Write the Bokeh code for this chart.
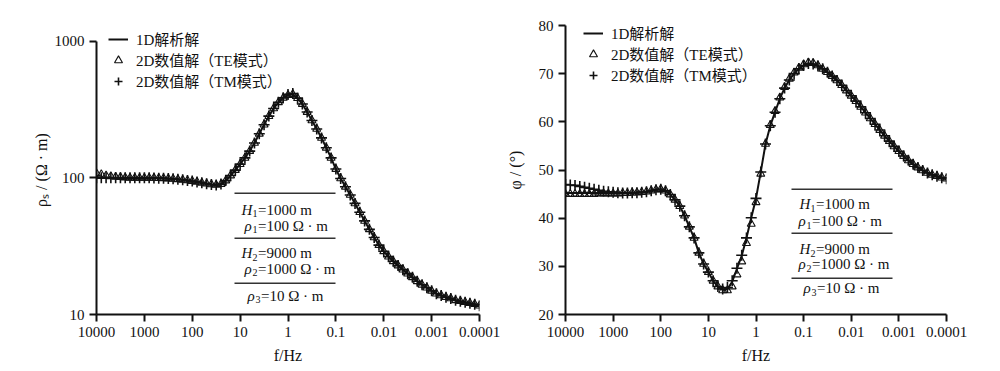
from bokeh.plotting import figure
from bokeh.models import Range1d, FixedTicker, Label, BoxAnnotation
from bokeh.layouts import row
from bokeh.embed import file_html
from bokeh.resources import INLINE

# ---------------- data ----------------
log_freq = [4.0, 3.9, 3.8, 3.7, 3.6, 3.5, 3.4, 3.3, 3.2, 3.1,
            3.0, 2.9, 2.8, 2.7, 2.6, 2.5, 2.4, 2.3, 2.2, 2.1,
            2.0, 1.9, 1.8, 1.7, 1.6, 1.5, 1.4, 1.3, 1.2, 1.1,
            1.0, 0.9, 0.8, 0.7, 0.6, 0.5, 0.4, 0.3, 0.2, 0.1,
            0.0, -0.1, -0.2, -0.3, -0.4, -0.5, -0.6, -0.7, -0.8, -0.9,
            -1.0, -1.1, -1.2, -1.3, -1.4, -1.5, -1.6, -1.7, -1.8, -1.9,
            -2.0, -2.1, -2.2, -2.3, -2.4, -2.5, -2.6, -2.7, -2.8, -2.9,
            -3.0, -3.1, -3.2, -3.3, -3.4, -3.5, -3.6, -3.7, -3.8, -3.9,
            -4.0]
freq = [10 ** e for e in log_freq]

rho_1d = [100.0, 100.0, 100.0, 100.0, 100.0, 100.0, 100.0, 100.0, 100.0, 100.0,
          100.0, 100.0, 99.8, 99.5, 99.2, 98.8, 98.3, 97.6, 96.8, 95.8,
          94.7, 93.4, 92.0, 90.6, 89.4, 88.7, 90.0, 95.5, 104.0, 114.0,
          126, 140, 157, 180, 210, 245, 283, 322, 357, 385,
          403, 410, 383, 347, 303, 263, 228, 196, 166, 140,
          116, 99, 86, 75, 65, 56, 48.4, 42.0, 36.6, 32.2,
          29.0, 26.5, 24.5, 22.8, 21.3, 19.9, 18.7, 17.5, 16.5, 15.7,
          14.9, 14.2, 13.8, 13.4, 13.1, 12.7, 12.5, 12.3, 12.1, 11.9,
          11.6]
rho_te = [108.0, 106.0, 104.0, 102.5, 101.5, 101.0, 100.5, 100.0, 100.0, 100.0,
          100.0, 100.0, 99.8, 99.5, 99.2, 98.8, 98.3, 97.6, 96.8, 95.8,
          94.7, 93.4, 92.0, 90.6, 89.4, 88.7, 90.0, 95.5, 104.0, 114.0,
          126, 140, 157, 180, 210, 245, 283, 322, 357, 385,
          403, 410, 383, 347, 303, 263, 228, 196, 166, 140,
          116, 99, 86, 75, 65, 56, 48.4, 42.0, 36.6, 32.2,
          29.0, 26.5, 24.5, 22.8, 21.3, 19.9, 18.7, 17.5, 16.5, 15.7,
          14.9, 14.2, 13.8, 13.4, 13.1, 12.7, 12.5, 12.3, 12.1, 11.9,
          11.6]
rho_tm = [100.0, 100.0, 100.0, 100.0, 100.0, 100.0, 100.0, 100.0, 100.0, 100.0,
          100.0, 100.0, 99.8, 99.5, 99.2, 98.8, 98.3, 97.6, 96.8, 95.8,
          94.7, 93.4, 92.0, 90.6, 89.4, 88.7, 90.0, 95.5, 104.0, 114.0,
          126, 140, 157, 180, 210, 245, 283, 322, 357, 385,
          408, 414, 383, 347, 303, 263, 228, 196, 166, 140,
          116, 99, 86, 75, 65, 56, 48.4, 42.0, 36.6, 32.2,
          29.0, 26.5, 24.5, 22.8, 21.3, 19.9, 18.7, 17.5, 16.5, 15.7,
          14.9, 14.2, 13.8, 13.4, 13.1, 12.7, 12.5, 12.3, 12.1, 11.9,
          11.6]

phi_1d = [45.2, 45.2, 45.2, 45.2, 45.2, 45.2, 45.2, 45.2, 45.2, 45.2,
          45.2, 45.2, 45.2, 45.2, 45.3, 45.3, 45.4, 45.5, 45.7, 45.9,
          46.0, 45.7, 44.9, 43.8, 42.5, 40.5, 38.2, 35.9, 32.8, 30.5,
          28.8, 27.0, 25.8, 25.1, 25.3, 26.8, 29.5, 32.2, 35.9, 40.1,
          44.1, 49.6, 55.4, 59.2, 62.0, 64.8, 67.0, 68.7, 70.0, 71.0,
          71.7, 72.1, 72.0, 71.6, 71.0, 70.3, 69.5, 68.6, 67.6, 66.5,
          65.4, 64.3, 63.1, 61.9, 60.7, 59.5, 58.3, 57.1, 56.0, 54.9,
          53.9, 52.9, 52.0, 51.2, 50.5, 49.9, 49.4, 49.0, 48.7, 48.4,
          48.2]
phi_te = [45.0, 45.0, 45.0, 45.0, 45.0, 45.0, 45.0, 45.1, 45.1, 45.1,
          45.1, 45.1, 45.2, 45.2, 45.3, 45.3, 45.4, 45.5, 45.7, 45.9,
          46.0, 45.7, 44.9, 43.8, 42.5, 40.5, 38.2, 35.9, 32.8, 30.5,
          28.8, 27.0, 25.8, 25.0, 25.0, 25.8, 28.3, 31.0, 34.8, 38.8,
          43.3, 49.2, 55.4, 59.3, 62.2, 65.0, 67.2, 68.9, 70.2, 71.2,
          71.9, 72.3, 72.2, 71.7, 71.0, 70.3, 69.5, 68.6, 67.6, 66.5,
          65.4, 64.3, 63.1, 61.9, 60.7, 59.5, 58.3, 57.1, 56.0, 54.9,
          53.9, 52.9, 52.0, 51.2, 50.5, 49.9, 49.4, 49.0, 48.7, 48.4,
          48.2]
phi_tm = [47.0, 46.9, 46.8, 46.6, 46.4, 46.2, 46.0, 45.8, 45.6, 45.5,
          45.4, 45.3, 45.2, 45.2, 45.3, 45.3, 45.4, 45.5, 45.7, 45.9,
          46.0, 45.7, 44.9, 43.8, 42.5, 40.5, 38.2, 35.9, 32.8, 30.5,
          28.8, 27.0, 25.8, 25.3, 25.6, 27.0, 29.6, 32.3, 35.9, 40.1,
          44.1, 49.6, 55.4, 59.2, 62.0, 64.8, 67.0, 68.7, 70.0, 71.0,
          71.7, 72.1, 72.0, 71.6, 71.0, 70.3, 69.5, 68.6, 67.6, 66.5,
          65.4, 64.3, 63.1, 61.9, 60.7, 59.5, 58.3, 57.1, 56.0, 54.9,
          53.9, 52.9, 52.0, 51.2, 50.5, 49.9, 49.4, 49.0, 48.7, 48.4,
          48.2]

x_ticks = [1e4, 1e3, 1e2, 1e1, 1.0, 0.1, 0.01, 0.001, 0.0001]
x_tick_labels = ["10000", "1000", "100", "10", "1", "0.1", "0.01", "0.001", "0.0001"]
rho_ticks = [10.0, 100.0, 1000.0]
rho_tick_labels = ["10", "100", "1000"]
phi_ticks = [20, 30, 40, 50, 60, 70, 80]

legend_labels = ["1D解析解", "2D数值解（TE模式）", "2D数值解（TM模式）"]
param_syms = ["H", "ρ", "H", "ρ", "ρ"]
param_subs = ["1", "1", "2", "2", "3"]
param_rest = ["=1000 m", "=100 Ω · m", "=9000 m", "=1000 Ω · m", "=10 Ω · m"]

SERIF = "'Liberation Serif', 'Noto Sans CJK SC'"
INK = "#111111"


def style(p, x_label, y_label, y_label_standoff):
    p.outline_line_color = None
    p.grid.visible = False
    p.background_fill_color = "white"
    p.border_fill_color = "white"
    p.xaxis.ticker = FixedTicker(ticks=x_ticks, minor_ticks=[])
    p.xaxis.major_label_overrides = {t: s for t, s in zip(x_ticks, x_tick_labels)}
    p.xaxis.axis_label = x_label
    p.yaxis.axis_label = y_label
    p.xaxis.axis_label_standoff = 7
    p.yaxis.axis_label_standoff = y_label_standoff
    for ax in p.axis:
        ax.axis_line_width = 2
        ax.axis_line_color = INK
        ax.major_tick_line_width = 2
        ax.major_tick_line_color = INK
        ax.major_tick_out = 7
        ax.major_tick_in = 0
        ax.minor_tick_line_color = None
        ax.major_label_text_font = SERIF
        ax.major_label_text_font_size = "15px"
        ax.major_label_text_color = INK
        ax.major_label_standoff = 5
        ax.axis_label_text_font = SERIF
        ax.axis_label_text_font_size = "16px"
        ax.axis_label_text_font_style = "normal"
        ax.axis_label_text_color = INK


def draw_series(p, y1d, yte, ytm):
    p.line(freq, y1d, line_color=INK, line_width=2, legend_label=legend_labels[0])
    p.scatter(freq, yte, marker="triangle", size=8, line_color=INK, line_width=1.1,
              fill_alpha=0, legend_label=legend_labels[1])
    p.scatter(freq, ytm, marker="cross", size=11, line_color=INK, line_width=1.6,
              legend_label=legend_labels[2])


def style_legend(p, loc):
    lg = p.legend[0]
    lg.location = loc
    lg.label_text_font = SERIF
    lg.label_text_font_size = "15px"
    lg.label_text_color = INK
    lg.glyph_width = 20
    lg.glyph_height = 20
    lg.label_height = 20
    lg.label_standoff = 8
    lg.spacing = 0
    lg.padding = 0
    lg.margin = 0
    lg.border_line_color = None
    lg.background_fill_alpha = 0


def add_table(p, xs, ys, rule_x0, rule_x1, rule_ys):
    for ry in rule_ys:
        p.add_layout(BoxAnnotation(left=rule_x0, right=rule_x1, bottom=ry - 0.75, top=ry + 0.75,
                                   left_units="screen", right_units="screen",
                                   bottom_units="screen", top_units="screen",
                                   fill_color="#333333", fill_alpha=1, line_color=None))
    sym_w = {"H": 11.0, "ρ": 8.0}
    for x, y, sym, sub, rest in zip(xs, ys, param_syms, param_subs, param_rest):
        p.add_layout(Label(x=x, y=y, x_units="screen", y_units="screen", text=sym,
                           text_font=SERIF, text_font_size="15px", text_font_style="italic",
                           text_color=INK, text_baseline="middle"))
        p.add_layout(Label(x=x + sym_w[sym], y=y - 4, x_units="screen", y_units="screen", text=sub,
                           text_font=SERIF, text_font_size="10px",
                           text_color=INK, text_baseline="middle"))
        p.add_layout(Label(x=x + sym_w[sym] + 5.5, y=y, x_units="screen", y_units="screen", text=rest,
                           text_font=SERIF, text_font_size="15px",
                           text_color=INK, text_baseline="middle"))


FRAME_H = 289
TOP = 25
BOTTOM = 52

# ---------------- left: apparent resistivity ----------------
# frame is taller than the 10..1000 decade span so that both plots share one frame height;
# the y axis itself is bounded to 10..1000.
p1 = figure(x_axis_type="log", y_axis_type="log",
            x_range=Range1d(1e4, 1e-4), y_range=Range1d(10, 1303),
            frame_width=383, frame_height=FRAME_H,
            min_border_left=96, min_border_right=21, min_border_top=TOP, min_border_bottom=BOTTOM,
            output_backend="svg", toolbar_location=None)
style(p1, "f/Hz", "ρₛ / (Ω · m)", 2)
p1.yaxis.ticker = FixedTicker(ticks=rho_ticks, minor_ticks=[])
p1.yaxis.major_label_overrides = {t: s for t, s in zip(rho_ticks, rho_tick_labels)}
p1.yaxis.bounds = (10, 1000)
draw_series(p1, rho_1d, rho_te, rho_tm)
style_legend(p1, (12, 223))
add_table(p1, [145, 148, 145, 148, 151], [105, 89, 61.3, 46, 19], 138, 239, [121.3, 76.3, 31.3])

# ---------------- right: phase ----------------
p2 = figure(x_axis_type="log",
            x_range=Range1d(1e4, 1e-4), y_range=Range1d(20, 80),
            frame_width=381, frame_height=FRAME_H,
            min_border_left=65, min_border_right=38, min_border_top=TOP, min_border_bottom=BOTTOM,
            output_backend="svg", toolbar_location=None)
style(p2, "f/Hz", "φ / (°)", 12)
p2.yaxis.ticker = FixedTicker(ticks=phi_ticks, minor_ticks=[])
draw_series(p2, phi_1d, phi_te, phi_tm)
style_legend(p2, (18, 229))
add_table(p2, [234, 233, 234, 233, 238], [110.3, 93.3, 65.3, 50.3, 26.3], 226, 327, [125.3, 81.3, 36.3])

layout = row(p1, p2)
open("out.html", "w").write(file_html(layout, INLINE))
